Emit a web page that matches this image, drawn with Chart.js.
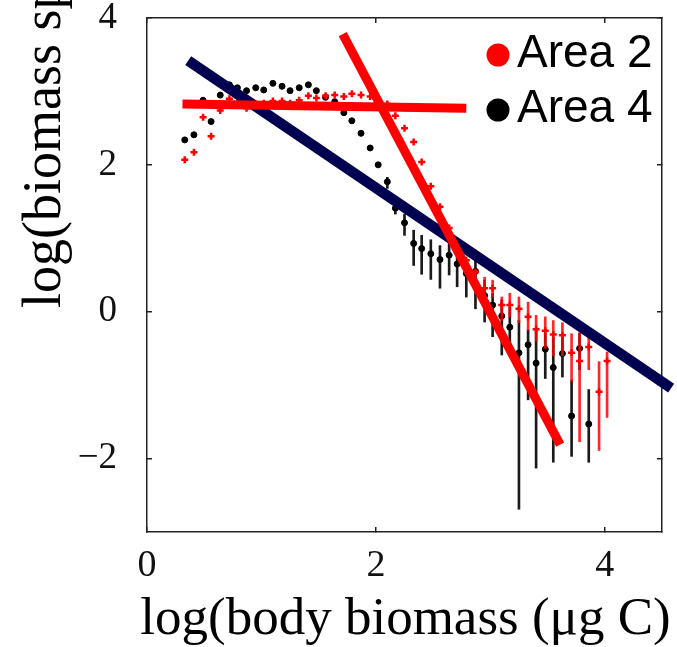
<!DOCTYPE html>
<html>
<head>
<meta charset="utf-8">
<script src="https://cdn.jsdelivr.net/npm/chart.js@4.4.1/dist/chart.umd.min.js"></script>
<style>
  html, body { margin: 0; padding: 0; background: #fff; }
</style>
</head>
<body>
<canvas id="grafico" width="677" height="647"></canvas>
<script>
// size bins (log body biomass)
const binX = [0.33, 0.41, 0.49, 0.56, 0.64, 0.72, 0.79, 0.87, 0.95, 1.02,
              1.10, 1.18, 1.25, 1.33, 1.41, 1.48, 1.56, 1.64, 1.72, 1.79,
              1.87, 1.95, 2.02, 2.10, 2.17, 2.25, 2.33, 2.40, 2.48, 2.56,
              2.64, 2.71, 2.79, 2.87, 2.95, 3.02, 3.10, 3.17, 3.25, 3.33,
              3.40, 3.48, 3.55, 3.63, 3.71, 3.78, 3.86, 3.95, 4.02];

const area2Y  = [2.07, 2.17, 2.65, 2.39, 2.74, 2.90, 2.84, 2.77, 2.82, 2.84,
                 2.87, 2.87, 2.84, 2.88, 2.94, 2.91, 2.94, 2.95, 2.93, 2.97,
                 2.95, 2.93, 2.88, 2.83, 2.67, 2.50, 2.31, 2.04, 1.71, 1.43,
                 1.14, 0.92, 0.70, 0.54, 0.32, 0.32, 0.09, 0.09, 0.04, -0.07,
                 -0.24, -0.26, -0.31, -0.32, -0.56, -0.67, -0.48, -1.09, -0.67];
const area2Lo = [null, null, null, null, null, null, null, null, null, null,
                 null, null, null, null, null, null, null, null, null, null,
                 null, null, null, null, null, null, null, null, null, null,
                 null, null, null, null, 0.22, 0.20, -0.12, -0.07, -0.15, -0.25,
                 -0.40, -0.50, -0.60, -0.60, -0.95, -1.77, -0.79, -1.89, -1.44];
const area2Hi = [null, null, null, null, null, null, null, null, null, null,
                 null, null, null, null, null, null, null, null, null, null,
                 null, null, null, null, null, null, null, null, null, null,
                 null, null, null, null, 0.47, 0.43, 0.20, 0.25, 0.20, 0.13,
                 -0.05, -0.07, -0.12, -0.15, -0.30, -0.29, -0.34, -0.68, -0.55];

const area4Y  = [2.34, 2.41, 2.88, 2.59, 2.95, 3.09, 3.05, 3.01, 3.05, 3.02,
                 3.11, 3.07, 3.01, 3.05, 3.09, 3.01, 2.92, 2.86, 2.71, 2.60,
                 2.43, 2.23, 2.00, 1.77, 1.41, 1.21, 0.93, 0.86, 0.79, 0.71,
                 0.77, 0.65, 0.52, 0.55, 0.22, 0.09, -0.06, -0.21, -0.56, -0.45,
                 -0.70, -0.51, -0.76, -0.57, -1.42, -0.50, -1.53];
const area4Lo = [null, null, null, null, null, null, null, null, null, null,
                 null, null, null, null, null, null, null, null, null, null,
                 null, null, null, 1.68, 1.33, 1.04, 0.63, 0.51, 0.44, 0.32,
                 0.50, 0.34, 0.20, 0.04, -0.14, -0.34, -0.59, -0.52, -2.69, -1.20,
                 -2.13, -0.91, -2.05, -0.89, -1.97, -0.79, -2.05];
const area4Hi = [null, null, null, null, null, null, null, null, null, null,
                 null, null, null, null, null, null, null, null, null, null,
                 null, null, null, 1.83, 1.47, 1.33, 1.11, 1.04, 0.98, 0.90,
                 0.99, 0.81, 0.70, 0.70, 0.43, 0.25, 0.16, 0.05, -0.12, -0.25,
                 -0.25, -0.30, -0.35, -0.35, -0.93, -0.29, -1.06];

// fitted lines (end points)
const fitAllX   = [0.36, 4.58];
const fitAllY   = [3.42, -1.04];
const fitFlatX  = [0.31, 2.79];
const fitFlatY  = [2.83, 2.77];
const fitSteepX = [1.71, 3.61];
const fitSteepY = [3.78, -1.81];

const xTicks = [0, 2, 4];
const yTicks = [-2, 0, 2, 4];
const seriesNames  = ['Area 2', 'Area 4'];
const seriesColors = ['#ff0000', '#000000'];
const xTitle = 'log(body biomass (μg C)';
const yTitle = 'log(biomass spectrum)';

function puntos(xs, ys){
    return ys.map((y, i) => ({x: xs[i], y: y}));
}

function barras(xs, lo, hi){
    let salida = [];
    for (let i = 0; i < lo.length; i++) {
        if (lo[i] === null) continue;
        salida.push({x: xs[i], y: [lo[i], hi[i]]});
    }
    return salida;
}

function linea(xs, ys, color, ancho){
    return {
        type: 'line',
        data: puntos(xs, ys),
        borderColor: color,
        borderWidth: ancho,
        pointRadius: 0,
        showLine: true,
        clip: false
    };
}

const leyenda = {
    id: 'leyenda',
    afterDraw(chart){
        const ctx = chart.ctx;
        const area = chart.chartArea;
        ctx.save();
        ctx.font = '46px "Liberation Sans"';
        ctx.textBaseline = 'alphabetic';
        ctx.textAlign = 'left';
        for (let i = 0; i < seriesNames.length; i++) {
            const base = area.top + 49 + i * 55;
            ctx.fillStyle = seriesColors[i];
            ctx.beginPath();
            ctx.arc(area.right - 164, base - 12, 11.5, 0, Math.PI * 2);
            ctx.fill();
            ctx.fillStyle = '#000';
            ctx.fillText(seriesNames[i], area.right - 145, base);
        }
        ctx.restore();
    }
};

// axis titles are wider than the plot box, so they are drawn here
const titulos = {
    id: 'titulos',
    afterDraw(chart){
        const ctx = chart.ctx;
        const area = chart.chartArea;
        ctx.save();
        ctx.font = '53px "Liberation Serif"';
        ctx.fillStyle = '#000';
        ctx.textBaseline = 'alphabetic';
        ctx.textAlign = 'center';
        ctx.fillText(xTitle, (area.left + area.right) / 2 + 1, area.bottom + 102);
        ctx.translate(60, area.top + 290);
        ctx.rotate(-Math.PI / 2);
        ctx.font = '54px "Liberation Serif"';
        ctx.textAlign = 'left';
        ctx.fillText(yTitle, 0, 0);
        ctx.restore();
    }
};

function eje(posicion, min, max, marcas, tamano, extra){
    const horizontal = posicion === 'top' || posicion === 'bottom';
    return Object.assign({
        type: 'linear',
        position: posicion,
        min: min,
        max: max,
        offset: false,
        afterBuildTicks: s => { s.ticks = marcas.map(v => ({value: v})); },
        afterFit: s => {
            if (horizontal) s.height = tamano; else s.width = tamano;
            s.paddingTop = 0; s.paddingBottom = 0;
            s.paddingLeft = 0; s.paddingRight = 0;
        },
        grid: { offset: false, drawOnChartArea: false, drawTicks: true, tickLength: -5, color: '#222', lineWidth: 1.5 },
        border: { display: true, color: '#222', width: 1.5 },
        ticks: { display: false }
    }, extra || {});
}

Chart.defaults.font.family = '"Liberation Serif"';
Chart.defaults.color = '#111';

const ctx = document.getElementById('grafico');
new Chart(ctx, {
    type: 'scatter',
    data: {
        datasets: [
            linea(fitSteepX, fitSteepY, '#ff0000', 9),
            linea(fitFlatX, fitFlatY, '#ff0000', 9),
            linea(fitAllX, fitAllY, '#000050', 10.5),
            {
                type: 'scatter',
                label: seriesNames[0],
                data: puntos(binX, area2Y),
                pointStyle: 'cross',
                pointRadius: 3.5,
                borderWidth: 2.5,
                borderColor: '#ff0000',
                backgroundColor: '#ff0000'
            },
            {
                type: 'bar',
                data: barras(binX, area2Lo, area2Hi),
                backgroundColor: 'rgba(255,0,0,0.85)',
                barThickness: 2,
                grouped: false
            },
            {
                type: 'scatter',
                label: seriesNames[1],
                data: puntos(binX, area4Y),
                pointStyle: 'circle',
                pointRadius: 3,
                borderWidth: 1,
                borderColor: '#000',
                backgroundColor: '#000'
            },
            {
                type: 'bar',
                data: barras(binX, area4Lo, area4Hi),
                backgroundColor: '#1a1a1a',
                barThickness: 2,
                grouped: false
            }
        ]
    },
    options: {
        responsive: false,
        animation: false,
        layout: { padding: { top: 18, right: 15, left: 0, bottom: 0 } },
        plugins: { legend: { display: false }, tooltip: { enabled: false } },
        scales: {
            x: eje('bottom', 0, 4.5, xTicks, 115, {
                ticks: { padding: 16, font: { size: 38 }, maxRotation: 0, color: '#111' }
            }),
            y: eje('left', -3, 4, yTicks, 147, {
                ticks: { padding: 35, font: { size: 37 }, color: '#111',
                         callback: v => String(v).replace('-', '\u2212') }
            }),
            x2: eje('top', 0, 4.5, xTicks, 0),
            y2: eje('right', -3, 4, yTicks, 0)
        }
    },
    plugins: [leyenda, titulos]
});
</script>
</body>
</html>
